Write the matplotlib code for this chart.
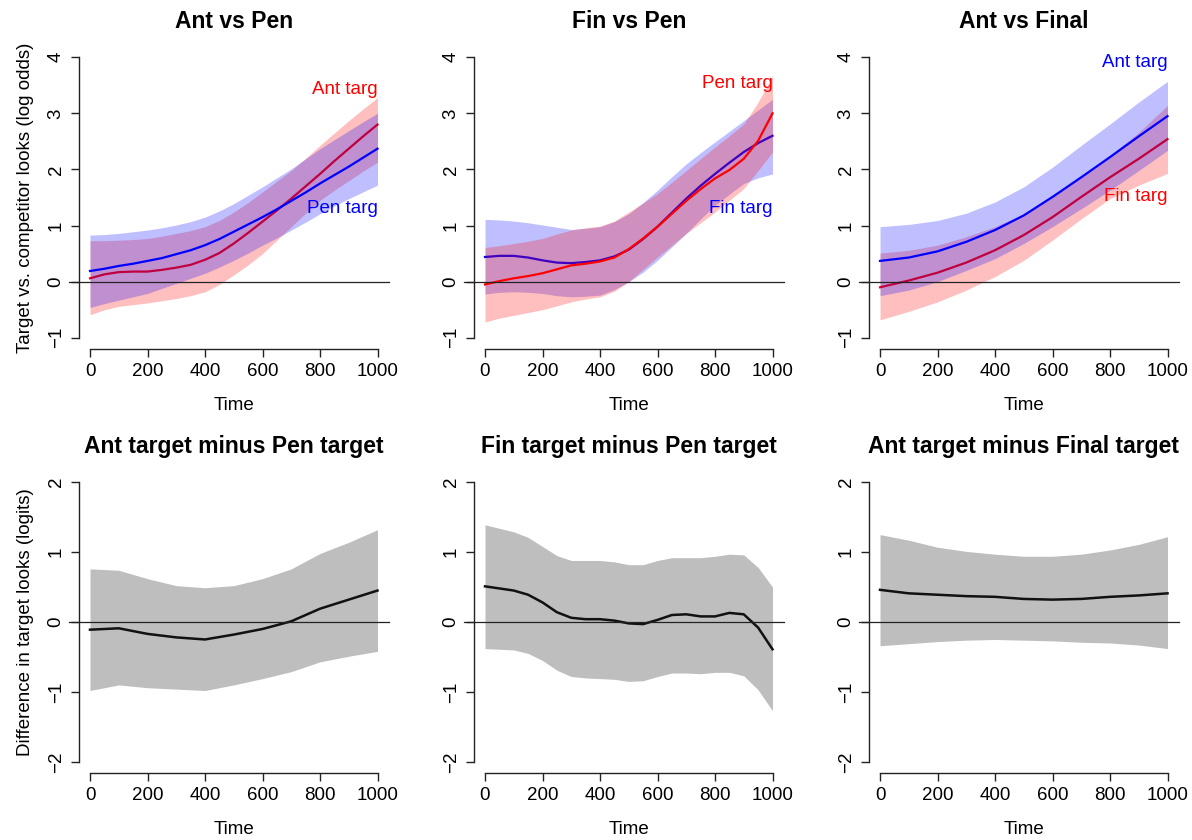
import matplotlib
matplotlib.use("Agg")
import matplotlib.pyplot as plt

plt.rcParams['font.family'] = ['Liberation Sans', 'DejaVu Sans']

# ---- time grids ----
time = [0, 100, 200, 300, 400, 500, 600, 700, 800, 900, 1000]
time50 = [0, 50, 100, 150, 200, 250, 300, 350, 400, 450, 500,
          550, 600, 650, 700, 750, 800, 850, 900, 950, 1000]

# ---- Ant vs Pen (log odds) ----
ap_ant_fit = [0.06, 0.13, 0.17, 0.18, 0.18, 0.21, 0.25, 0.30, 0.39, 0.51, 0.68,
              0.87, 1.07, 1.27, 1.48, 1.70, 1.92, 2.15, 2.37, 2.59, 2.80]
ap_ant_hi = [0.73, 0.73, 0.74, 0.75, 0.77, 0.81, 0.86, 0.91, 0.98, 1.09, 1.24,
             1.41, 1.60, 1.79, 1.98, 2.20, 2.43, 2.65, 2.87, 3.08, 3.28]
ap_ant_lo = [-0.59, -0.50, -0.44, -0.41, -0.38, -0.34, -0.30, -0.25, -0.18, -0.05, 0.12,
             0.30, 0.50, 0.74, 0.98, 1.22, 1.45, 1.63, 1.80, 1.97, 2.13]
ap_pen_fit = [0.19, 0.23, 0.28, 0.32, 0.37, 0.42, 0.49, 0.56, 0.65, 0.76, 0.89,
              1.02, 1.15, 1.29, 1.44, 1.59, 1.75, 1.90, 2.05, 2.21, 2.37]
ap_pen_hi = [0.83, 0.84, 0.86, 0.89, 0.92, 0.96, 1.01, 1.07, 1.15, 1.26, 1.39,
             1.54, 1.69, 1.85, 2.01, 2.19, 2.37, 2.53, 2.69, 2.85, 3.00]
ap_pen_lo = [-0.46, -0.39, -0.33, -0.27, -0.21, -0.12, -0.03, 0.06, 0.15, 0.26, 0.38,
             0.51, 0.65, 0.78, 0.92, 1.06, 1.21, 1.35, 1.48, 1.60, 1.72]

# ---- Fin vs Pen (log odds) ----
fp_pen_fit = [-0.05, 0.01, 0.06, 0.10, 0.15, 0.22, 0.29, 0.32, 0.36, 0.43, 0.58,
              0.77, 0.98, 1.21, 1.44, 1.65, 1.84, 1.99, 2.19, 2.51, 3.00]
fp_pen_hi = [0.61, 0.64, 0.68, 0.72, 0.77, 0.85, 0.92, 0.96, 0.99, 1.08, 1.24,
             1.40, 1.57, 1.77, 1.98, 2.19, 2.40, 2.60, 2.81, 3.20, 3.67]
fp_pen_lo = [-0.72, -0.65, -0.60, -0.55, -0.50, -0.43, -0.36, -0.31, -0.27, -0.17, 0.00,
             0.22, 0.44, 0.65, 0.86, 1.05, 1.24, 1.45, 1.66, 1.98, 2.31]
fp_fin_fit = [0.44, 0.46, 0.46, 0.43, 0.38, 0.34, 0.33, 0.35, 0.38, 0.45, 0.57,
              0.76, 0.98, 1.23, 1.48, 1.71, 1.92, 2.12, 2.31, 2.47, 2.60]
fp_fin_hi = [1.11, 1.10, 1.08, 1.05, 1.01, 0.97, 0.93, 0.95, 0.98, 1.07, 1.21,
             1.41, 1.63, 1.87, 2.10, 2.30, 2.49, 2.68, 2.87, 3.06, 3.25]
fp_fin_lo = [-0.22, -0.19, -0.18, -0.19, -0.21, -0.25, -0.27, -0.26, -0.24, -0.14, 0.00,
             0.17, 0.38, 0.62, 0.86, 1.12, 1.36, 1.56, 1.75, 1.85, 1.92]

# ---- Ant vs Final (log odds) ----
af_ant_fit = [0.37, 0.43, 0.54, 0.71, 0.92, 1.18, 1.51, 1.86, 2.22, 2.59, 2.95]
af_ant_hi = [0.98, 1.02, 1.09, 1.22, 1.42, 1.69, 2.04, 2.43, 2.81, 3.20, 3.57]
af_ant_lo = [-0.25, -0.15, 0.00, 0.20, 0.41, 0.68, 0.98, 1.30, 1.63, 1.98, 2.34]
af_fin_fit = [-0.10, 0.02, 0.16, 0.34, 0.56, 0.83, 1.15, 1.51, 1.86, 2.19, 2.54]
af_fin_hi = [0.51, 0.56, 0.65, 0.80, 0.98, 1.21, 1.54, 1.89, 2.25, 2.66, 3.14]
af_fin_lo = [-0.68, -0.53, -0.36, -0.15, 0.09, 0.38, 0.74, 1.12, 1.48, 1.72, 1.93]

# ---- Differences (logits) ----
d_ap_fit = [-0.11, -0.09, -0.17, -0.22, -0.25, -0.18, -0.10, 0.01, 0.19, 0.32, 0.45]
d_ap_hi = [0.76, 0.74, 0.62, 0.52, 0.49, 0.52, 0.62, 0.76, 0.98, 1.14, 1.32]
d_ap_lo = [-0.98, -0.90, -0.94, -0.96, -0.98, -0.90, -0.81, -0.71, -0.57, -0.49, -0.42]

d_fp_fit = [0.51, 0.48, 0.45, 0.39, 0.28, 0.14, 0.06, 0.04, 0.04, 0.02, -0.02,
            -0.03, 0.03, 0.10, 0.11, 0.08, 0.08, 0.13, 0.11, -0.08, -0.39]
d_fp_hi = [1.39, 1.34, 1.29, 1.21, 1.08, 0.95, 0.88, 0.88, 0.88, 0.86, 0.82,
           0.82, 0.88, 0.92, 0.92, 0.92, 0.94, 0.97, 0.96, 0.78, 0.50]
d_fp_lo = [-0.38, -0.39, -0.40, -0.45, -0.55, -0.69, -0.78, -0.80, -0.81, -0.82, -0.85,
           -0.84, -0.78, -0.73, -0.73, -0.74, -0.72, -0.72, -0.77, -0.97, -1.27]

d_af_fit = [0.46, 0.41, 0.39, 0.37, 0.36, 0.33, 0.32, 0.33, 0.36, 0.38, 0.41]
d_af_hi = [1.25, 1.17, 1.07, 1.01, 0.97, 0.94, 0.94, 0.97, 1.03, 1.11, 1.22]
d_af_lo = [-0.34, -0.31, -0.28, -0.26, -0.25, -0.26, -0.27, -0.29, -0.30, -0.33, -0.38]

top_titles = ["Ant vs Pen", "Fin vs Pen", "Ant vs Final"]
bottom_titles = ["Ant target minus Pen target", "Fin target minus Pen target",
                 "Ant target minus Final target"]
x_ticks = [0, 200, 400, 600, 800, 1000]
top_yticks = [-1, 0, 1, 2, 3, 4]
bottom_yticks = [-2, -1, 0, 1, 2]

RED_BAND = (1.0, 0.0, 0.0, 0.25)
BLUE_BAND = (0.0, 0.0, 1.0, 0.25)
TICK_FS = 13.5
TITLE_FS = 16.5

W, H = 1192, 840
fig = plt.figure(figsize=(W / 100, H / 100), dpi=100)

col_left = [78.5, 473.5, 868.5]
col_width = 310.5
top_row = (46, 349)
bot_row = (471, 773)


def make_axes(col, row):
    y0, y1 = row
    return fig.add_axes([col_left[col] / W, 1 - y1 / H, col_width / W, (y1 - y0) / H])


def style(ax, ylo, yhi, yticks, title, ylabel=None):
    ax.set_xlim(-40, 1040)
    yr = yhi - ylo
    ax.set_ylim(ylo - 0.04 * yr, yhi + 0.04 * yr)
    for s in ("top", "right"):
        ax.spines[s].set_visible(False)
    ax.spines["bottom"].set_bounds(0, 1000)
    ax.spines["left"].set_bounds(ylo, yhi)
    for s in ("bottom", "left"):
        ax.spines[s].set_linewidth(1.0)
        ax.spines[s].set_color("#222222")
    ax.set_xticks(x_ticks)
    ax.set_yticks(yticks)
    ax.set_yticklabels([str(v).replace("-", "\u2212") for v in yticks],
                       rotation=90, va="center")
    ax.tick_params(axis="both", direction="out", length=6, width=1.0,
                   color="#222222", labelsize=TICK_FS, pad=4)
    ax.set_xlabel("Time", fontsize=TICK_FS, labelpad=12)
    ax.set_title(title, fontsize=TITLE_FS, fontweight="bold", pad=13)
    if ylabel:
        ax.set_ylabel(ylabel, fontsize=TICK_FS, labelpad=10)
    ax.axhline(0, xmin=-0.03, xmax=1.0, color="#222222", lw=0.9,
               clip_on=False, zorder=10)


def layer(ax, t, lo, hi, fit, band, line, z):
    # each band is laid over whatever was drawn before it, including earlier lines
    ax.fill_between(t, lo, hi, color=band, lw=0, zorder=z)
    ax.plot(t, fit, color=line, lw=1.6, zorder=z + 1)


# ---- top row ----
ax = make_axes(0, top_row)
layer(ax, time50, ap_ant_lo, ap_ant_hi, ap_ant_fit, RED_BAND, "red", 1)
layer(ax, time50, ap_pen_lo, ap_pen_hi, ap_pen_fit, BLUE_BAND, "blue", 3)
ax.text(1000, 3.42, "Ant targ", color="red", ha="right", va="center", fontsize=TICK_FS)
ax.text(1000, 1.30, "Pen targ", color="blue", ha="right", va="center", fontsize=TICK_FS)
style(ax, -1, 4, top_yticks, top_titles[0], "Target vs. competitor looks (log odds)")

ax = make_axes(1, top_row)
layer(ax, time50, fp_fin_lo, fp_fin_hi, fp_fin_fit, BLUE_BAND, "blue", 1)
layer(ax, time50, fp_pen_lo, fp_pen_hi, fp_pen_fit, RED_BAND, "red", 3)
ax.text(1000, 3.54, "Pen targ", color="red", ha="right", va="center", fontsize=TICK_FS)
ax.text(1000, 1.30, "Fin targ", color="blue", ha="right", va="center", fontsize=TICK_FS)
style(ax, -1, 4, top_yticks, top_titles[1])

ax = make_axes(2, top_row)
layer(ax, time, af_fin_lo, af_fin_hi, af_fin_fit, RED_BAND, "red", 1)
layer(ax, time, af_ant_lo, af_ant_hi, af_ant_fit, BLUE_BAND, "blue", 3)
ax.text(1000, 3.90, "Ant targ", color="blue", ha="right", va="center", fontsize=TICK_FS)
ax.text(1000, 1.51, "Fin targ", color="red", ha="right", va="center", fontsize=TICK_FS)
style(ax, -1, 4, top_yticks, top_titles[2])

# ---- bottom row ----
diff_sets = [
    (time, d_ap_lo, d_ap_hi, d_ap_fit),
    (time50, d_fp_lo, d_fp_hi, d_fp_fit),
    (time, d_af_lo, d_af_hi, d_af_fit),
]
for i, (t, lo, hi, fit) in enumerate(diff_sets):
    ax = make_axes(i, bot_row)
    ax.fill_between(t, lo, hi, color="#bebebe", lw=0, zorder=1)
    ax.plot(t, fit, color="#111111", lw=1.8, zorder=2)
    style(ax, -2, 2, bottom_yticks, bottom_titles[i],
          "Difference in target looks (logits)" if i == 0 else None)

fig.savefig("out.png", dpi=100)
